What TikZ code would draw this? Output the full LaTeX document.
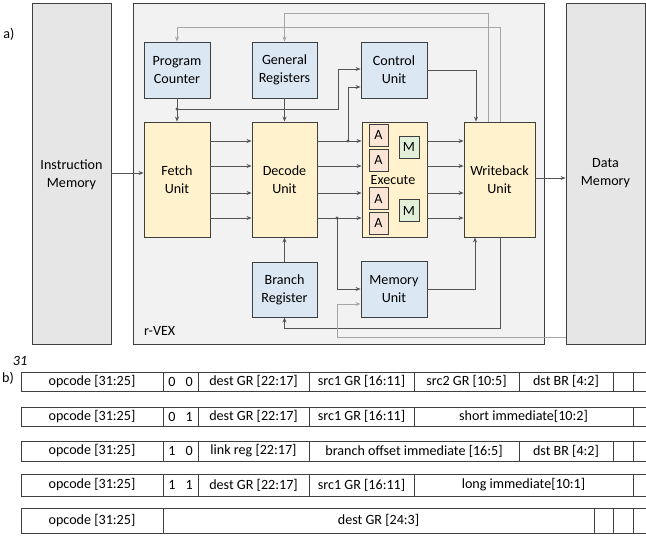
\documentclass[tikz,border=0pt]{standalone}
\usepackage{fontspec}
\setmainfont{Carlito}
\usetikzlibrary{arrows.meta}
\definecolor{bord}{HTML}{3F3F3F}
\definecolor{memgray}{HTML}{E6E6E6}
\definecolor{rvexbg}{HTML}{F2F2F2}
\definecolor{ylw}{HTML}{FFF2CC}
\definecolor{blu}{HTML}{DCE7F4}
\definecolor{pnk}{HTML}{FBE5D6}
\definecolor{grn}{HTML}{E2F0D9}
\definecolor{wiredark}{HTML}{555555}
\definecolor{wirelight}{HTML}{A6A6A6}
\newcommand\mytxt{\fontsize{14.1}{17.8}\selectfont}
\newcommand\mycell[7]{\node[cellbox, minimum width={(#2-#1)*1pt}, minimum height={(#4-#3)*1pt}] (#5) at ({(#1+#2)/2},{(#3+#4)/2}) {#6#7};}
\tikzset{
  blk/.style={draw=bord, line width=0.9pt, align=center, inner sep=0pt, font=\mytxt},
  memblk/.style={blk, fill=memgray},
  rvexblk/.style={blk, fill=rvexbg},
  ublk/.style={blk, fill=ylw, minimum height=115},
  bblk/.style={blk, fill=blu},
  ablk/.style={blk, fill=pnk, minimum width=19, minimum height=22},
  mblk/.style={blk, fill=grn, minimum width=20, minimum height=22},
  wire/.style={draw=wiredark, line width=0.8pt},
  lwire/.style={draw=wirelight, line width=1pt},
  arr/.style={-{Stealth[length=5pt,width=4pt]}},
  cellbox/.style={draw=bord, line width=0.8pt, fill=white, inner sep=0pt, font=\mytxt},
  lbl/.style={font=\mytxt, inner sep=0pt}
}
\begin{document}
\begin{tikzpicture}[x=1pt,y=-1pt]
\useasboundingbox (0,0) rectangle (646,539);
% helper coordinates
\foreach \v in {13,27,69,70,87,109,141,166,173,178,193,218,289,304,328,337}{\coordinate (h\v) at (0,\v);}
\foreach \v in {337,338,348,475,476,488,500}{\coordinate (v\v) at (\v,0);}

\node[lbl] (la) at (9,34) {a)};
\node[memblk, minimum width=79, minimum height=341] (imem) at (71.5,173.5) {};
\node[lbl, align=center] (imemt) at (71.5,175) {Instruction\\Memory};
\node[rvexblk, minimum width=411, minimum height=341] (rvex) at (338.5,173.5) {};
\node[lbl, anchor=west] (rvexl) at (144,331) {r-VEX};
\node[memblk, minimum width=79, minimum height=341] (dmem) at (605.5,173.5) {};
\node[lbl, align=center] (dmemt) at (605.5,173) {Data\\Memory};

\node[bblk, minimum width=66, minimum height=56] (pc) at (177,70) {Program\\Counter};
\node[bblk, minimum width=65, minimum height=56] (gr) at (284.5,70) {General\\Registers};
\node[bblk, minimum width=66, minimum height=56] (ctrl) at (394,70) {Control\\Unit};
\node[ublk, minimum width=66] (fetch) at (177,179.5) {Fetch\\Unit};
\node[ublk, minimum width=65] (decode) at (284.5,179.5) {Decode\\Unit};
\node[ublk, minimum width=65] (exec) at (394.5,179.5) {};
\node[lbl] (exect) at (393,180) {Execute};
\node[ublk, minimum width=71] (wb) at (499.5,179.5) {Writeback\\Unit};
\node[bblk, minimum width=65, minimum height=55] (br) at (284.5,289.5) {Branch\\Register};
\node[bblk, minimum width=66, minimum height=56] (mem) at (394,289) {Memory\\Unit};

\node[ablk] (a1) at (378.5,135) {A};
\node[ablk] (a2) at (378.5,160) {A};
\node[ablk] (a3) at (378.5,198.5) {A};
\node[ablk] (a4) at (378.5,223) {A};
\node[mblk] (m1) at (409,147) {M};
\node[mblk] (m2) at (409,210.5) {M};

% connectors
\draw[wire,arr] (imem.east |- h173) -- (fetch.west |- h173);
\foreach \y in {141,166,193,218}{
  \draw[wire,arr] (fetch.east |- h\y) -- (decode.west |- h\y);
  \draw[wire,arr] (decode.east |- h\y) -- (exec.west |- h\y);
  \draw[wire,arr] (exec.east |- h\y) -- (wb.west |- h\y);
}
\draw[wire,arr] (wb.east |- h178) -- (dmem.west |- h178);

\coordinate (pcdot) at (pc.south |- h109);
\draw[wire,arr] (pc.south) -- (fetch.north);
\fill[wiredark] (pcdot) circle (1.7);
\draw[wire,arr] (pcdot) -- (v338 |- pcdot) -- (v338 |- h69) -- (ctrl.west |- h69);
\draw[wire,arr] (gr.south) -- (decode.north);

\coordinate (d1) at (348,141);
\coordinate (d4) at (337,218);
\fill[wiredark] (d1) circle (1.7);
\fill[wiredark] (d4) circle (1.7);
\draw[wire,arr] (d1) -- (d1 |- h87) -- (ctrl.west |- h87);
\draw[wire,arr] (d4) -- (d4 |- h289) -- (mem.west |- h289);

\draw[wire,arr] (ctrl.east) -- (v476 |- ctrl.east) -- (v476 |- wb.north);
\draw[lwire,arr] (v488 |- wb.north) -- (v488 |- h13) -- (gr.north |- h13) -- (gr.north);
\draw[lwire,arr] (v500 |- wb.north) -- (v500 |- h27) -- (pc.north |- h27) -- (pc.north);
\draw[wire,arr] (mem.east |- h289) -- (v475 |- h289) -- (v475 |- wb.south);
\draw[wire,arr] (v500 |- wb.south) -- (v500 |- h328) -- (br.south |- h328) -- (br.south);
\draw[lwire,arr] (dmem.west |- h337) -- (v337 |- h337) -- (v337 |- h304) -- (mem.west |- h304);
\draw[wire,arr] (br.north) -- (decode.south);

% instruction formats
\node[lbl, font=\mytxt\itshape] (b31) at (20,361) {31};
\node[lbl] (lb) at (8,378) {b)};
% row 1
\mycell{21}{163}{372}{391}{ra1}{opcode [31:25]}{}
\mycell{163}{198}{372}{391}{ra2}{0\hspace{10pt}0}{}
\mycell{198}{309}{372}{391}{ra3}{dest GR [22:17]}{}
\mycell{309}{414}{372}{391}{ra4}{src1 GR [16:11]}{}
\mycell{414}{519}{372}{391}{ra5}{src2 GR [10:5]}{}
\mycell{519}{613}{372}{391}{ra6}{dst BR [4:2]}{}
\mycell{613}{633}{372}{391}{ra7}{}{}
\mycell{633}{660}{372}{391}{ra8}{}{}
% row 2
\mycell{21}{163}{407}{426}{rb1}{opcode [31:25]}{}
\mycell{163}{198}{407}{426}{rb2}{0\hspace{10pt}1}{}
\mycell{198}{309}{407}{426}{rb3}{dest GR [22:17]}{}
\mycell{309}{414}{407}{426}{rb4}{src1 GR [16:11]}{}
\mycell{414}{633}{407}{426}{rb5}{short immediate[10:2]}{}
\mycell{633}{660}{407}{426}{rb6}{}{}
% row 3
\mycell{21}{163}{441}{461}{rc1}{opcode [31:25]}{}
\mycell{163}{198}{441}{461}{rc2}{1\hspace{10pt}0}{}
\mycell{198}{309}{441}{461}{rc3}{link reg [22:17]}{}
\mycell{309}{519}{441}{461}{rc4}{branch offset immediate [16:5]}{}
\mycell{519}{613}{441}{461}{rc5}{dst BR [4:2]}{}
\mycell{613}{633}{441}{461}{rc6}{}{}
\mycell{633}{660}{441}{461}{rc7}{}{}
% row 4
\mycell{21}{163}{474}{496}{rd1}{opcode [31:25]}{}
\mycell{163}{198}{474}{496}{rd2}{1\hspace{10pt}1}{}
\mycell{198}{309}{474}{496}{rd3}{dest GR [22:17]}{}
\mycell{309}{414}{474}{496}{rd4}{src1 GR [16:11]}{}
\mycell{414}{633}{474}{496}{rd5}{long immediate[10:1]}{}
\mycell{633}{660}{474}{496}{rd6}{}{}
% row 5
\mycell{21}{163}{508}{533}{re1}{opcode [31:25]}{}
\mycell{163}{594}{508}{533}{re2}{dest GR [24:3]}{}
\mycell{594}{613}{508}{533}{re3}{}{}
\mycell{613}{633}{508}{533}{re4}{}{}
\mycell{633}{660}{508}{533}{re5}{}{}
\end{tikzpicture}
\end{document}
